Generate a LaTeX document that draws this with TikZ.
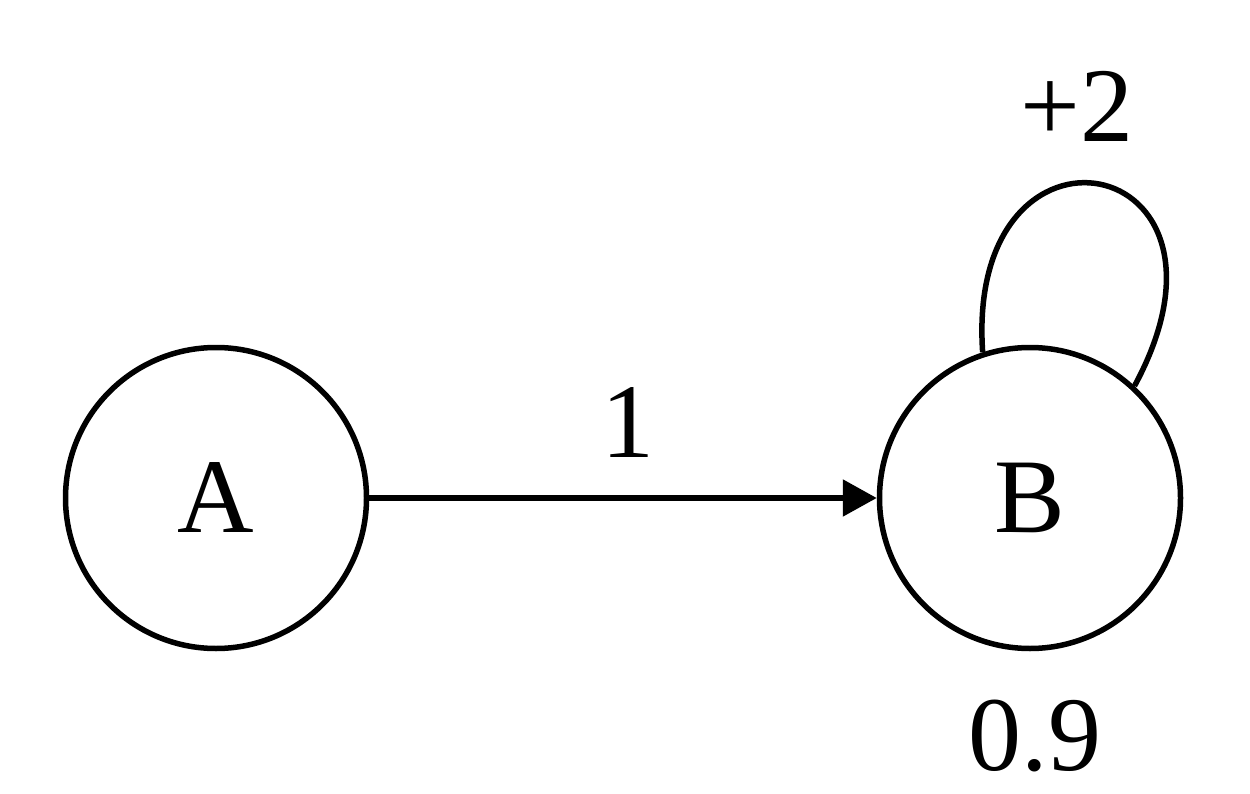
\documentclass[tikz,border=0pt]{standalone}
\usepackage{fontspec}
\setmainfont{Liberation Serif}
\usetikzlibrary{arrows.meta}
\begin{document}
\begin{tikzpicture}[x=1pt,y=-1pt,
  statenode/.style={circle,draw,line width=5.5pt,minimum size=301pt,inner sep=0pt,font=\fontsize{106}{120}\selectfont},
  lbl/.style={font=\fontsize{106}{120}\selectfont,inner sep=0pt},
  edge/.style={line width=5.5pt},
  loopedge/.style={line width=5.5pt}]
\useasboundingbox (0,0) rectangle (1250,794);
\fill[white] (0,0) rectangle (1250,794);
\node[statenode] (A) at (216,498) {A};
\node[statenode] (B) at (1030,498) {B};
\draw[edge,-{Triangle[length=34pt,width=36pt]}] (A) -- (B);
\node[lbl] (l1) at (628,423) {1};
\coordinate (ls) at (B.108);
\coordinate (le) at (B.47);
\draw[loopedge] (ls) .. controls (965,95) and (1262,150) .. (le);
\node[lbl] (l2) at (1077,106) {+2};
\node[lbl] (l3) at (1035,736) {0.9};
\end{tikzpicture}
\end{document}
